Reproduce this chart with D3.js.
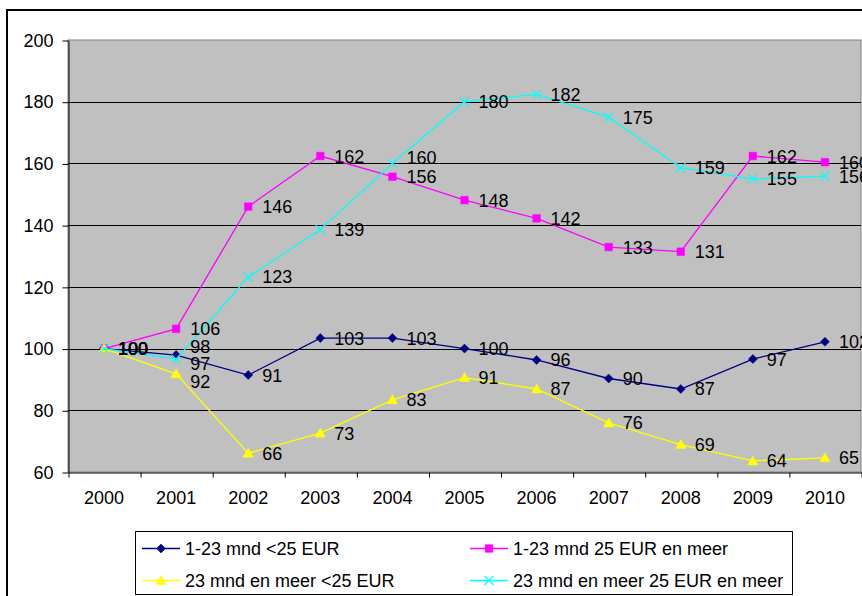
<!DOCTYPE html>
<html>
<head>
<meta charset="utf-8">
<script src="https://cdn.jsdelivr.net/npm/d3@7"></script>
<style>
  html, body { margin: 0; padding: 0; background: #fff; overflow: hidden; }
  svg { display: block; }
  text { font-family: "Liberation Sans", Arial, sans-serif; }
</style>
</head>
<body>
<svg id="chart" width="862" height="596"></svg>
<script>
// ---- data ----
const years = ["2000","2001","2002","2003","2004","2005","2006","2007","2008","2009","2010"];
const yTicks = [60, 80, 100, 120, 140, 160, 180, 200];
const seriesNames = ["1-23 mnd <25 EUR", "1-23 mnd 25 EUR en meer", "23 mnd en meer <25 EUR", "23 mnd en meer 25 EUR en meer"];
const short1_23 = [100, 97.9, 91.4, 103.4, 103.4, 100, 96.3, 90.3, 86.9, 96.6, 102.2];
const long1_23 = [100, 106.4, 146, 162.4, 155.7, 148.1, 142.2, 132.9, 131.4, 162.4, 160.4];
const short23 = [100, 91.8, 66.1, 72.6, 83.4, 90.6, 86.9, 75.9, 68.9, 63.6, 64.6];
const long23 = [100, 96.6, 123.2, 138.6, 160, 180, 182.4, 175, 158.6, 155, 155.9];

// ---- layout / style ----
const svg = d3.select("#chart");
const W = 862, H = 596;
const plot = {left: 68, right: 861, top: 40, bottom: 472};
const FONT = 18;

const series = [
  {name: seriesNames[0], values: short1_23, color: "#000080", marker: "diamond"},
  {name: seriesNames[1], values: long1_23, color: "#FF00FF", marker: "square"},
  {name: seriesNames[2], values: short23, color: "#FFFF00", marker: "triangle"},
  {name: seriesNames[3], values: long23, color: "#00FFFF", marker: "x"}
];

const x = d3.scaleBand().domain(years).range([plot.left, plot.right]).padding(0);
const xEdge = d3.scaleLinear().domain([0, years.length]).range([plot.left, plot.right]);
const y = d3.scaleLinear().domain([60, 200]).range([plot.bottom, plot.top]);
const cx = yr => x(yr) + x.bandwidth() / 2;

svg.append("rect").attr("width", W).attr("height", H).attr("fill", "#fff");
// outer chart border (extends past the viewport on right/bottom)
svg.append("rect").attr("x", 7).attr("y", 10).attr("width", 900).attr("height", 640)
  .attr("fill", "none").attr("stroke", "#000").attr("stroke-width", 2);

// plot area
svg.append("rect")
  .attr("x", plot.left).attr("y", plot.top)
  .attr("width", plot.right - plot.left).attr("height", plot.bottom - plot.top)
  .attr("fill", "#C0C0C0").attr("stroke", "#808080").attr("stroke-width", 1);

// gridlines
svg.append("g").selectAll("line")
  .data(yTicks.filter(t => t > 60 && t < 200))
  .join("line")
  .attr("x1", plot.left).attr("x2", plot.right)
  .attr("y1", d => Math.round(y(d)) + 0.5).attr("y2", d => Math.round(y(d)) + 0.5)
  .attr("stroke", "#000").attr("stroke-width", 1);

// y axis
const yAxis = svg.append("g").attr("transform", `translate(${plot.left + 0.5},0.5)`)
  .call(d3.axisLeft(y).tickValues(yTicks).tickSize(6).tickPadding(9).tickSizeOuter(0));
yAxis.select(".domain").attr("stroke", "#000");
yAxis.selectAll(".tick line").attr("stroke", "#000");
yAxis.selectAll("text").attr("font-size", FONT).attr("fill", "#000")
  .attr("font-family", '"Liberation Sans", Arial, sans-serif');

// x axis: tick marks at category edges
const xTickAxis = svg.append("g").attr("transform", `translate(0.5,${plot.bottom + 0.5})`)
  .call(d3.axisBottom(xEdge).tickValues(d3.range(0, years.length + 1)).tickSize(5).tickFormat("").tickSizeOuter(0));
xTickAxis.select(".domain").attr("stroke", "#000");
xTickAxis.selectAll(".tick line").attr("stroke", "#000");

// x axis labels at category centers
const xLab = svg.append("g").attr("transform", `translate(0,${plot.bottom})`)
  .call(d3.axisBottom(x).tickSize(0).tickPadding(19));
xLab.select(".domain").remove();
xLab.selectAll("text").attr("font-size", FONT).attr("fill", "#000")
  .attr("font-family", '"Liberation Sans", Arial, sans-serif');

// markers
function markerPath(type) {
  switch (type) {
    case "diamond": return "M0,-4.5L4.5,0L0,4.5L-4.5,0Z";
    case "square": return "M-3.8,-3.8H3.8V3.8H-3.8Z";
    case "triangle": return "M0,-5L5.2,4L-5.2,4Z";
    case "x": return "M-4.5,-4.5L4.5,4.5M-4.5,4.5L4.5,-4.5";
  }
}
function drawMarker(g, type, color) {
  const p = g.append("path").attr("d", markerPath(type));
  if (type === "x") p.attr("fill", "none").attr("stroke", color).attr("stroke-width", 1.2);
  else p.attr("fill", color).attr("stroke", color).attr("stroke-width", 0.5);
}

const line = d3.line().x((d, i) => cx(years[i])).y(d => y(d));

series.forEach(s => {
  const g = svg.append("g");
  g.append("path").datum(s.values).attr("d", line)
    .attr("fill", "none").attr("stroke", s.color).attr("stroke-width", 1.3);
  s.values.forEach((v, i) => {
    const mg = g.append("g").attr("transform", `translate(${cx(years[i])},${y(v)})`);
    drawMarker(mg, s.marker, s.color);
  });
});

// data labels (a few nudged to avoid overlaps, as in the original)
const nudges = {"0-1": -9, "2-1": 8, "3-1": 4, "3-4": -6};
const labels = svg.append("g");
series.forEach((s, si) => {
  s.values.forEach((v, i) => {
    labels.append("text")
      .attr("x", cx(years[i]) + 14)
      .attr("y", y(v) + 6.5 + (nudges[`${si}-${i}`] || 0))
      .attr("font-size", FONT).attr("fill", "#000")
      .text(d3.format(".0f")(v));
  });
});

// legend
const legend = svg.append("g");
legend.append("rect").attr("x", 135.5).attr("y", 531.5).attr("width", 657).attr("height", 63)
  .attr("fill", "#fff").attr("stroke", "#000").attr("stroke-width", 1);
const legPos = [
  {lx: 142, ty: 548.5}, {lx: 470, ty: 548.5},
  {lx: 142, ty: 580.5}, {lx: 470, ty: 580.5}
];
series.forEach((s, i) => {
  const p = legPos[i];
  const g = legend.append("g");
  g.append("line").attr("x1", p.lx).attr("x2", p.lx + 38).attr("y1", p.ty).attr("y2", p.ty)
    .attr("stroke", s.color).attr("stroke-width", 1.3);
  const mg = g.append("g").attr("transform", `translate(${p.lx + 19},${p.ty})`);
  drawMarker(mg, s.marker, s.color);
  g.append("text").attr("x", p.lx + 43).attr("y", p.ty + 6.5)
    .attr("font-size", FONT).attr("fill", "#000").text(s.name);
});
</script>
</body>
</html>
